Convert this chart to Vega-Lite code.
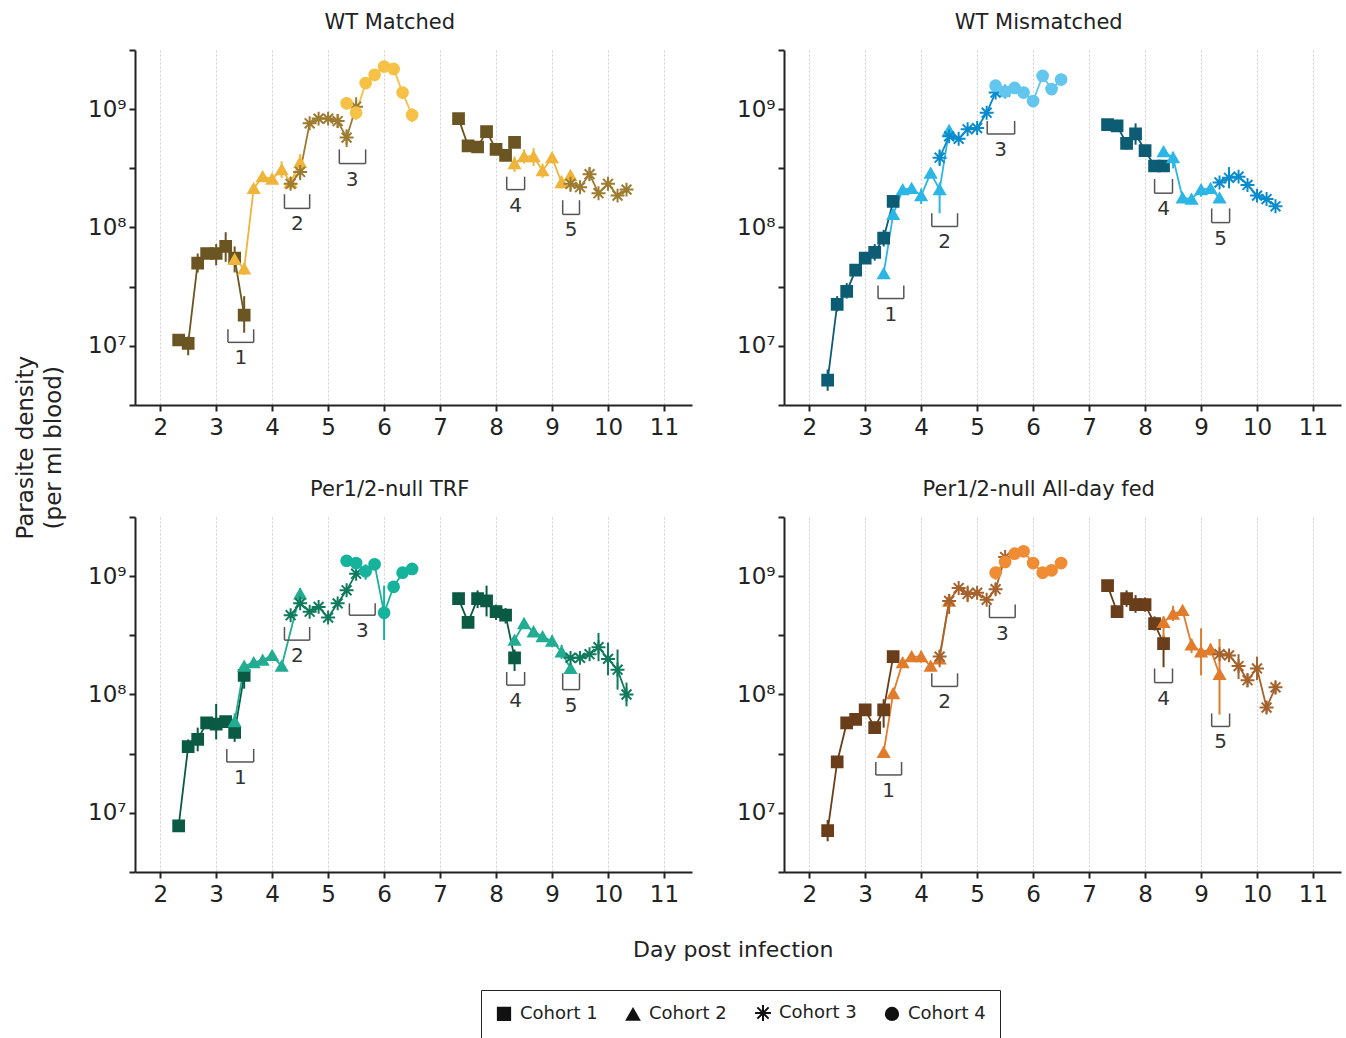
{
"$schema":"https://vega.github.io/schema/vega-lite/v6.json",
"background":"white",
"padding":{"left":14,"top":12,"right":4,"bottom":4},
"datasets":{
"pts":[
{"p":"A","c":"Cohort 1","r":1,"d":2.33,"v":1.12e7,"lo":1.05e7,"hi":1.2e7},
{"p":"A","c":"Cohort 1","r":1,"d":2.5,"v":1.05e7,"lo":8.32e6,"hi":1.2e7},
{"p":"A","c":"Cohort 1","r":1,"d":2.67,"v":5.01e7,"lo":4.17e7,"hi":6.03e7},
{"p":"A","c":"Cohort 1","r":1,"d":2.83,"v":6.03e7,"lo":5.5e7,"hi":6.61e7},
{"p":"A","c":"Cohort 1","r":1,"d":3.0,"v":6.03e7,"lo":4.79e7,"hi":7.24e7},
{"p":"A","c":"Cohort 1","r":1,"d":3.17,"v":6.92e7,"lo":5.13e7,"hi":9.12e7},
{"p":"A","c":"Cohort 1","r":1,"d":3.33,"v":5.5e7,"lo":4.17e7,"hi":6.92e7},
{"p":"A","c":"Cohort 1","r":1,"d":3.5,"v":1.82e7,"lo":1.29e7,"hi":2.63e7},
{"p":"A","c":"Cohort 2","r":1,"d":3.33,"v":5.37e7},
{"p":"A","c":"Cohort 2","r":1,"d":3.5,"v":4.47e7,"lo":3.98e7,"hi":5.01e7},
{"p":"A","c":"Cohort 2","r":1,"d":3.67,"v":2.14e8},
{"p":"A","c":"Cohort 2","r":1,"d":3.83,"v":2.69e8},
{"p":"A","c":"Cohort 2","r":1,"d":4.0,"v":2.57e8},
{"p":"A","c":"Cohort 2","r":1,"d":4.17,"v":3.09e8,"lo":2.63e8,"hi":3.63e8},
{"p":"A","c":"Cohort 2","r":1,"d":4.33,"v":2.4e8},
{"p":"A","c":"Cohort 2","r":1,"d":4.5,"v":3.55e8,"lo":3.02e8,"hi":4.17e8},
{"p":"A","c":"Cohort 3","r":1,"d":4.33,"v":2.34e8,"lo":2.14e8,"hi":2.63e8},
{"p":"A","c":"Cohort 3","r":1,"d":4.5,"v":2.95e8,"lo":2.51e8,"hi":3.63e8},
{"p":"A","c":"Cohort 3","r":1,"d":4.67,"v":7.59e8},
{"p":"A","c":"Cohort 3","r":1,"d":4.83,"v":8.32e8},
{"p":"A","c":"Cohort 3","r":1,"d":5.0,"v":8.32e8},
{"p":"A","c":"Cohort 3","r":1,"d":5.17,"v":7.94e8,"lo":6.92e8,"hi":9.12e8},
{"p":"A","c":"Cohort 3","r":1,"d":5.33,"v":5.75e8,"lo":4.79e8,"hi":6.76e8},
{"p":"A","c":"Cohort 3","r":1,"d":5.5,"v":1.05e9,"lo":8.51e8,"hi":1.26e9},
{"p":"A","c":"Cohort 4","r":1,"d":5.33,"v":1.12e9,"lo":1.0e9,"hi":1.26e9},
{"p":"A","c":"Cohort 4","r":1,"d":5.5,"v":9.33e8,"lo":8.13e8,"hi":1.1e9},
{"p":"A","c":"Cohort 4","r":1,"d":5.67,"v":1.66e9},
{"p":"A","c":"Cohort 4","r":1,"d":5.83,"v":1.95e9},
{"p":"A","c":"Cohort 4","r":1,"d":6.0,"v":2.29e9},
{"p":"A","c":"Cohort 4","r":1,"d":6.17,"v":2.19e9,"lo":2.0e9,"hi":2.4e9},
{"p":"A","c":"Cohort 4","r":1,"d":6.33,"v":1.38e9},
{"p":"A","c":"Cohort 4","r":1,"d":6.5,"v":8.91e8,"lo":7.76e8,"hi":1.02e9},
{"p":"A","c":"Cohort 1","r":2,"d":7.33,"v":8.32e8},
{"p":"A","c":"Cohort 1","r":2,"d":7.5,"v":4.9e8},
{"p":"A","c":"Cohort 1","r":2,"d":7.67,"v":4.79e8,"lo":4.37e8,"hi":5.37e8},
{"p":"A","c":"Cohort 1","r":2,"d":7.83,"v":6.46e8},
{"p":"A","c":"Cohort 1","r":2,"d":8.0,"v":4.57e8},
{"p":"A","c":"Cohort 1","r":2,"d":8.17,"v":4.07e8},
{"p":"A","c":"Cohort 1","r":2,"d":8.33,"v":5.25e8},
{"p":"A","c":"Cohort 2","r":2,"d":8.33,"v":3.47e8,"lo":2.95e8,"hi":3.98e8},
{"p":"A","c":"Cohort 2","r":2,"d":8.5,"v":3.98e8,"lo":3.47e8,"hi":4.57e8},
{"p":"A","c":"Cohort 2","r":2,"d":8.67,"v":3.98e8,"lo":3.31e8,"hi":4.68e8},
{"p":"A","c":"Cohort 2","r":2,"d":8.83,"v":3.02e8,"lo":2.63e8,"hi":3.47e8},
{"p":"A","c":"Cohort 2","r":2,"d":9.0,"v":3.89e8},
{"p":"A","c":"Cohort 2","r":2,"d":9.17,"v":2.4e8,"lo":2.14e8,"hi":2.75e8},
{"p":"A","c":"Cohort 2","r":2,"d":9.33,"v":2.75e8},
{"p":"A","c":"Cohort 3","r":2,"d":9.33,"v":2.34e8,"lo":2.0e8,"hi":2.75e8},
{"p":"A","c":"Cohort 3","r":2,"d":9.5,"v":2.19e8},
{"p":"A","c":"Cohort 3","r":2,"d":9.67,"v":2.82e8,"lo":2.51e8,"hi":3.24e8},
{"p":"A","c":"Cohort 3","r":2,"d":9.83,"v":1.95e8},
{"p":"A","c":"Cohort 3","r":2,"d":10.0,"v":2.34e8},
{"p":"A","c":"Cohort 3","r":2,"d":10.17,"v":1.86e8},
{"p":"A","c":"Cohort 3","r":2,"d":10.33,"v":2.09e8},
{"p":"B","c":"Cohort 1","r":1,"d":2.33,"v":5.13e6,"lo":4.17e6,"hi":6.31e6},
{"p":"B","c":"Cohort 1","r":1,"d":2.5,"v":2.24e7,"lo":1.95e7,"hi":2.63e7},
{"p":"B","c":"Cohort 1","r":1,"d":2.67,"v":2.88e7,"lo":2.51e7,"hi":3.39e7},
{"p":"B","c":"Cohort 1","r":1,"d":2.83,"v":4.37e7},
{"p":"B","c":"Cohort 1","r":1,"d":3.0,"v":5.5e7,"lo":5.01e7,"hi":6.03e7},
{"p":"B","c":"Cohort 1","r":1,"d":3.17,"v":6.17e7,"lo":5.25e7,"hi":7.24e7},
{"p":"B","c":"Cohort 1","r":1,"d":3.33,"v":8.13e7,"lo":6.92e7,"hi":9.55e7},
{"p":"B","c":"Cohort 1","r":1,"d":3.5,"v":1.66e8},
{"p":"B","c":"Cohort 2","r":1,"d":3.33,"v":4.07e7,"lo":3.72e7,"hi":4.47e7},
{"p":"B","c":"Cohort 2","r":1,"d":3.5,"v":1.29e8},
{"p":"B","c":"Cohort 2","r":1,"d":3.67,"v":2.09e8},
{"p":"B","c":"Cohort 2","r":1,"d":3.83,"v":2.14e8},
{"p":"B","c":"Cohort 2","r":1,"d":4.0,"v":1.86e8,"lo":1.58e8,"hi":2.14e8},
{"p":"B","c":"Cohort 2","r":1,"d":4.17,"v":2.88e8},
{"p":"B","c":"Cohort 2","r":1,"d":4.33,"v":2.09e8,"lo":1.32e8,"hi":2.4e8},
{"p":"B","c":"Cohort 2","r":1,"d":4.5,"v":6.61e8},
{"p":"B","c":"Cohort 3","r":1,"d":4.33,"v":3.89e8,"lo":3.31e8,"hi":4.57e8},
{"p":"B","c":"Cohort 3","r":1,"d":4.5,"v":5.89e8},
{"p":"B","c":"Cohort 3","r":1,"d":4.67,"v":5.62e8},
{"p":"B","c":"Cohort 3","r":1,"d":4.83,"v":6.76e8},
{"p":"B","c":"Cohort 3","r":1,"d":5.0,"v":6.92e8},
{"p":"B","c":"Cohort 3","r":1,"d":5.17,"v":9.33e8},
{"p":"B","c":"Cohort 3","r":1,"d":5.33,"v":1.38e9},
{"p":"B","c":"Cohort 3","r":1,"d":5.5,"v":1.41e9},
{"p":"B","c":"Cohort 4","r":1,"d":5.33,"v":1.58e9},
{"p":"B","c":"Cohort 4","r":1,"d":5.5,"v":1.41e9},
{"p":"B","c":"Cohort 4","r":1,"d":5.67,"v":1.51e9},
{"p":"B","c":"Cohort 4","r":1,"d":5.83,"v":1.38e9},
{"p":"B","c":"Cohort 4","r":1,"d":6.0,"v":1.17e9},
{"p":"B","c":"Cohort 4","r":1,"d":6.17,"v":1.91e9},
{"p":"B","c":"Cohort 4","r":1,"d":6.33,"v":1.48e9},
{"p":"B","c":"Cohort 4","r":1,"d":6.5,"v":1.78e9,"lo":1.58e9,"hi":2.0e9},
{"p":"B","c":"Cohort 1","r":2,"d":7.33,"v":7.41e8},
{"p":"B","c":"Cohort 1","r":2,"d":7.5,"v":7.24e8,"lo":6.46e8,"hi":8.13e8},
{"p":"B","c":"Cohort 1","r":2,"d":7.67,"v":5.13e8,"lo":4.57e8,"hi":5.75e8},
{"p":"B","c":"Cohort 1","r":2,"d":7.83,"v":6.17e8,"lo":5.01e8,"hi":7.59e8},
{"p":"B","c":"Cohort 1","r":2,"d":8.0,"v":4.47e8},
{"p":"B","c":"Cohort 1","r":2,"d":8.17,"v":3.31e8},
{"p":"B","c":"Cohort 1","r":2,"d":8.33,"v":3.31e8},
{"p":"B","c":"Cohort 2","r":2,"d":8.33,"v":4.37e8},
{"p":"B","c":"Cohort 2","r":2,"d":8.5,"v":3.89e8,"lo":3.16e8,"hi":4.37e8},
{"p":"B","c":"Cohort 2","r":2,"d":8.67,"v":1.78e8},
{"p":"B","c":"Cohort 2","r":2,"d":8.83,"v":1.74e8,"lo":1.58e8,"hi":1.91e8},
{"p":"B","c":"Cohort 2","r":2,"d":9.0,"v":2.09e8,"lo":1.82e8,"hi":2.29e8},
{"p":"B","c":"Cohort 2","r":2,"d":9.17,"v":2.14e8},
{"p":"B","c":"Cohort 2","r":2,"d":9.33,"v":1.78e8},
{"p":"B","c":"Cohort 3","r":2,"d":9.33,"v":2.4e8},
{"p":"B","c":"Cohort 3","r":2,"d":9.5,"v":2.63e8,"lo":2.14e8,"hi":3.24e8},
{"p":"B","c":"Cohort 3","r":2,"d":9.67,"v":2.69e8},
{"p":"B","c":"Cohort 3","r":2,"d":9.83,"v":2.29e8},
{"p":"B","c":"Cohort 3","r":2,"d":10.0,"v":1.86e8},
{"p":"B","c":"Cohort 3","r":2,"d":10.17,"v":1.74e8},
{"p":"B","c":"Cohort 3","r":2,"d":10.33,"v":1.51e8},
{"p":"C","c":"Cohort 1","r":1,"d":2.33,"v":7.76e6},
{"p":"C","c":"Cohort 1","r":1,"d":2.5,"v":3.63e7,"lo":3.24e7,"hi":4.17e7},
{"p":"C","c":"Cohort 1","r":1,"d":2.67,"v":4.17e7,"lo":3.31e7,"hi":5.25e7},
{"p":"C","c":"Cohort 1","r":1,"d":2.83,"v":5.75e7,"lo":5.25e7,"hi":6.46e7},
{"p":"C","c":"Cohort 1","r":1,"d":3.0,"v":5.62e7,"lo":4.17e7,"hi":8.32e7},
{"p":"C","c":"Cohort 1","r":1,"d":3.17,"v":5.89e7,"lo":5.5e7,"hi":6.31e7},
{"p":"C","c":"Cohort 1","r":1,"d":3.33,"v":4.79e7,"lo":3.98e7,"hi":5.62e7},
{"p":"C","c":"Cohort 1","r":1,"d":3.5,"v":1.45e8,"lo":1.12e8,"hi":1.66e8},
{"p":"C","c":"Cohort 2","r":1,"d":3.33,"v":5.89e7,"lo":5.01e7,"hi":6.92e7},
{"p":"C","c":"Cohort 2","r":1,"d":3.5,"v":1.74e8},
{"p":"C","c":"Cohort 2","r":1,"d":3.67,"v":1.86e8},
{"p":"C","c":"Cohort 2","r":1,"d":3.83,"v":1.95e8},
{"p":"C","c":"Cohort 2","r":1,"d":4.0,"v":2.14e8,"lo":1.95e8,"hi":2.34e8},
{"p":"C","c":"Cohort 2","r":1,"d":4.17,"v":1.74e8,"lo":1.58e8,"hi":1.91e8},
{"p":"C","c":"Cohort 2","r":1,"d":4.5,"v":7.08e8,"lo":6.31e8,"hi":7.94e8},
{"p":"C","c":"Cohort 3","r":1,"d":4.33,"v":4.68e8},
{"p":"C","c":"Cohort 3","r":1,"d":4.5,"v":5.89e8},
{"p":"C","c":"Cohort 3","r":1,"d":4.67,"v":5.01e8},
{"p":"C","c":"Cohort 3","r":1,"d":4.83,"v":5.5e8},
{"p":"C","c":"Cohort 3","r":1,"d":5.0,"v":4.47e8},
{"p":"C","c":"Cohort 3","r":1,"d":5.17,"v":5.89e8},
{"p":"C","c":"Cohort 3","r":1,"d":5.33,"v":7.59e8},
{"p":"C","c":"Cohort 3","r":1,"d":5.5,"v":1.05e9},
{"p":"C","c":"Cohort 4","r":1,"d":5.33,"v":1.35e9},
{"p":"C","c":"Cohort 4","r":1,"d":5.5,"v":1.29e9,"lo":1.15e9,"hi":1.45e9},
{"p":"C","c":"Cohort 4","r":1,"d":5.67,"v":1.1e9,"lo":9.33e8,"hi":1.26e9},
{"p":"C","c":"Cohort 4","r":1,"d":5.83,"v":1.26e9},
{"p":"C","c":"Cohort 4","r":1,"d":6.0,"v":4.9e8,"lo":2.88e8,"hi":8.32e8},
{"p":"C","c":"Cohort 4","r":1,"d":6.17,"v":8.13e8},
{"p":"C","c":"Cohort 4","r":1,"d":6.33,"v":1.07e9},
{"p":"C","c":"Cohort 4","r":1,"d":6.5,"v":1.15e9},
{"p":"C","c":"Cohort 1","r":2,"d":7.33,"v":6.46e8,"lo":5.75e8,"hi":7.24e8},
{"p":"C","c":"Cohort 1","r":2,"d":7.5,"v":4.07e8,"lo":3.63e8,"hi":4.57e8},
{"p":"C","c":"Cohort 1","r":2,"d":7.67,"v":6.46e8,"lo":5.37e8,"hi":7.59e8},
{"p":"C","c":"Cohort 1","r":2,"d":7.83,"v":6.17e8,"lo":4.57e8,"hi":8.32e8},
{"p":"C","c":"Cohort 1","r":2,"d":8.0,"v":5.01e8,"lo":4.27e8,"hi":5.75e8},
{"p":"C","c":"Cohort 1","r":2,"d":8.17,"v":4.68e8,"lo":3.98e8,"hi":5.37e8},
{"p":"C","c":"Cohort 1","r":2,"d":8.33,"v":2.04e8,"lo":1.58e8,"hi":2.4e8},
{"p":"C","c":"Cohort 2","r":2,"d":8.33,"v":2.88e8},
{"p":"C","c":"Cohort 2","r":2,"d":8.5,"v":3.98e8},
{"p":"C","c":"Cohort 2","r":2,"d":8.67,"v":3.39e8},
{"p":"C","c":"Cohort 2","r":2,"d":8.83,"v":3.09e8},
{"p":"C","c":"Cohort 2","r":2,"d":9.0,"v":2.82e8,"lo":2.51e8,"hi":3.16e8},
{"p":"C","c":"Cohort 2","r":2,"d":9.17,"v":2.29e8,"lo":2.0e8,"hi":2.63e8},
{"p":"C","c":"Cohort 2","r":2,"d":9.33,"v":1.66e8},
{"p":"C","c":"Cohort 3","r":2,"d":9.33,"v":2.04e8},
{"p":"C","c":"Cohort 3","r":2,"d":9.5,"v":2.04e8},
{"p":"C","c":"Cohort 3","r":2,"d":9.67,"v":2.19e8},
{"p":"C","c":"Cohort 3","r":2,"d":9.83,"v":2.51e8,"lo":1.91e8,"hi":3.31e8},
{"p":"C","c":"Cohort 3","r":2,"d":10.0,"v":2.0e8,"lo":1.45e8,"hi":2.75e8},
{"p":"C","c":"Cohort 3","r":2,"d":10.17,"v":1.62e8,"lo":1.1e8,"hi":2.4e8},
{"p":"C","c":"Cohort 3","r":2,"d":10.33,"v":1.0e8,"lo":7.94e7,"hi":1.26e8},
{"p":"D","c":"Cohort 1","r":1,"d":2.33,"v":7.08e6,"lo":5.75e6,"hi":8.71e6},
{"p":"D","c":"Cohort 1","r":1,"d":2.5,"v":2.69e7},
{"p":"D","c":"Cohort 1","r":1,"d":2.67,"v":5.75e7},
{"p":"D","c":"Cohort 1","r":1,"d":2.83,"v":6.17e7,"lo":5.62e7,"hi":6.76e7},
{"p":"D","c":"Cohort 1","r":1,"d":3.0,"v":7.41e7,"lo":6.61e7,"hi":8.32e7},
{"p":"D","c":"Cohort 1","r":1,"d":3.17,"v":5.25e7,"lo":4.79e7,"hi":5.89e7},
{"p":"D","c":"Cohort 1","r":1,"d":3.33,"v":7.41e7,"lo":5.25e7,"hi":9.12e7},
{"p":"D","c":"Cohort 1","r":1,"d":3.5,"v":2.09e8,"lo":1.91e8,"hi":2.34e8},
{"p":"D","c":"Cohort 2","r":1,"d":3.33,"v":3.24e7,"lo":2.95e7,"hi":3.63e7},
{"p":"D","c":"Cohort 2","r":1,"d":3.5,"v":1.02e8},
{"p":"D","c":"Cohort 2","r":1,"d":3.67,"v":1.86e8},
{"p":"D","c":"Cohort 2","r":1,"d":3.83,"v":2.09e8,"lo":1.91e8,"hi":2.29e8},
{"p":"D","c":"Cohort 2","r":1,"d":4.0,"v":2.09e8,"lo":1.86e8,"hi":2.34e8},
{"p":"D","c":"Cohort 2","r":1,"d":4.17,"v":1.74e8},
{"p":"D","c":"Cohort 2","r":1,"d":4.33,"v":2.0e8,"lo":1.78e8,"hi":2.19e8},
{"p":"D","c":"Cohort 2","r":1,"d":4.5,"v":6.17e8},
{"p":"D","c":"Cohort 3","r":1,"d":4.33,"v":2.09e8,"lo":1.7e8,"hi":2.4e8},
{"p":"D","c":"Cohort 3","r":1,"d":4.5,"v":6.17e8,"lo":4.79e8,"hi":7.08e8},
{"p":"D","c":"Cohort 3","r":1,"d":4.67,"v":7.94e8},
{"p":"D","c":"Cohort 3","r":1,"d":4.83,"v":7.08e8,"lo":6.03e8,"hi":8.32e8},
{"p":"D","c":"Cohort 3","r":1,"d":5.0,"v":7.24e8},
{"p":"D","c":"Cohort 3","r":1,"d":5.17,"v":6.31e8},
{"p":"D","c":"Cohort 3","r":1,"d":5.33,"v":7.76e8,"lo":6.92e8,"hi":8.71e8},
{"p":"D","c":"Cohort 3","r":1,"d":5.5,"v":1.45e9},
{"p":"D","c":"Cohort 4","r":1,"d":5.33,"v":1.07e9,"lo":9.33e8,"hi":1.2e9},
{"p":"D","c":"Cohort 4","r":1,"d":5.5,"v":1.32e9,"lo":1.17e9,"hi":1.51e9},
{"p":"D","c":"Cohort 4","r":1,"d":5.67,"v":1.55e9},
{"p":"D","c":"Cohort 4","r":1,"d":5.83,"v":1.62e9},
{"p":"D","c":"Cohort 4","r":1,"d":6.0,"v":1.29e9},
{"p":"D","c":"Cohort 4","r":1,"d":6.17,"v":1.07e9},
{"p":"D","c":"Cohort 4","r":1,"d":6.33,"v":1.12e9},
{"p":"D","c":"Cohort 4","r":1,"d":6.5,"v":1.29e9},
{"p":"D","c":"Cohort 1","r":2,"d":7.33,"v":8.32e8,"lo":7.59e8,"hi":9.12e8},
{"p":"D","c":"Cohort 1","r":2,"d":7.5,"v":5.01e8},
{"p":"D","c":"Cohort 1","r":2,"d":7.67,"v":6.46e8,"lo":5.5e8,"hi":7.59e8},
{"p":"D","c":"Cohort 1","r":2,"d":7.83,"v":5.75e8,"lo":4.9e8,"hi":6.92e8},
{"p":"D","c":"Cohort 1","r":2,"d":8.0,"v":5.75e8,"lo":5.01e8,"hi":6.61e8},
{"p":"D","c":"Cohort 1","r":2,"d":8.17,"v":3.98e8,"lo":3.47e8,"hi":4.57e8},
{"p":"D","c":"Cohort 1","r":2,"d":8.33,"v":2.69e8,"lo":1.7e8,"hi":3.16e8},
{"p":"D","c":"Cohort 2","r":2,"d":8.33,"v":4.07e8,"lo":2.82e8,"hi":4.57e8},
{"p":"D","c":"Cohort 2","r":2,"d":8.5,"v":4.79e8,"lo":4.17e8,"hi":5.62e8},
{"p":"D","c":"Cohort 2","r":2,"d":8.67,"v":5.13e8},
{"p":"D","c":"Cohort 2","r":2,"d":8.83,"v":2.63e8,"lo":2.24e8,"hi":2.95e8},
{"p":"D","c":"Cohort 2","r":2,"d":9.0,"v":2.29e8,"lo":1.45e8,"hi":3.63e8},
{"p":"D","c":"Cohort 2","r":2,"d":9.17,"v":2.4e8,"lo":2.14e8,"hi":2.69e8},
{"p":"D","c":"Cohort 2","r":2,"d":9.33,"v":1.48e8,"lo":6.76e7,"hi":2.95e8},
{"p":"D","c":"Cohort 3","r":2,"d":9.33,"v":2.19e8},
{"p":"D","c":"Cohort 3","r":2,"d":9.5,"v":2.14e8,"lo":1.91e8,"hi":2.4e8},
{"p":"D","c":"Cohort 3","r":2,"d":9.67,"v":1.74e8,"lo":1.35e8,"hi":2.19e8},
{"p":"D","c":"Cohort 3","r":2,"d":9.83,"v":1.32e8,"lo":1.15e8,"hi":1.51e8},
{"p":"D","c":"Cohort 3","r":2,"d":10.0,"v":1.66e8,"lo":1.32e8,"hi":2.09e8},
{"p":"D","c":"Cohort 3","r":2,"d":10.17,"v":7.76e7,"lo":6.92e7,"hi":8.71e7},
{"p":"D","c":"Cohort 3","r":2,"d":10.33,"v":1.15e8,"lo":1.0e8,"hi":1.29e8}
],
"brk":[
{"p":"A","n":"1","center":3.44,"start":3.21,"end":3.67,"low":1.07e7,"high":1.38e7},
{"p":"A","n":"2","center":4.45,"start":4.22,"end":4.67,"low":1.45e8,"high":1.91e8},
{"p":"A","n":"3","center":5.43,"start":5.2,"end":5.67,"low":3.47e8,"high":4.57e8},
{"p":"A","n":"4","center":8.35,"start":8.19,"end":8.51,"low":2.09e8,"high":2.69e8},
{"p":"A","n":"5","center":9.34,"start":9.19,"end":9.49,"low":1.29e8,"high":1.7e8},
{"p":"B","n":"1","center":3.46,"start":3.23,"end":3.69,"low":2.51e7,"high":3.24e7},
{"p":"B","n":"2","center":4.42,"start":4.19,"end":4.65,"low":1.02e8,"high":1.32e8},
{"p":"B","n":"3","center":5.42,"start":5.18,"end":5.67,"low":6.17e8,"high":7.94e8},
{"p":"B","n":"4","center":8.33,"start":8.17,"end":8.49,"low":1.95e8,"high":2.57e8},
{"p":"B","n":"5","center":9.35,"start":9.19,"end":9.51,"low":1.1e8,"high":1.45e8},
{"p":"C","n":"1","center":3.43,"start":3.19,"end":3.67,"low":2.69e7,"high":3.47e7},
{"p":"C","n":"2","center":4.45,"start":4.22,"end":4.67,"low":2.88e8,"high":3.72e8},
{"p":"C","n":"3","center":5.61,"start":5.38,"end":5.84,"low":4.68e8,"high":5.89e8},
{"p":"C","n":"4","center":8.35,"start":8.19,"end":8.51,"low":1.2e8,"high":1.55e8},
{"p":"C","n":"5","center":9.34,"start":9.19,"end":9.49,"low":1.1e8,"high":1.51e8},
{"p":"D","n":"1","center":3.42,"start":3.19,"end":3.65,"low":2.09e7,"high":2.69e7},
{"p":"D","n":"2","center":4.42,"start":4.19,"end":4.65,"low":1.17e8,"high":1.51e8},
{"p":"D","n":"3","center":5.45,"start":5.22,"end":5.68,"low":4.47e8,"high":5.75e8},
{"p":"D","n":"4","center":8.33,"start":8.17,"end":8.49,"low":1.26e8,"high":1.66e8},
{"p":"D","n":"5","center":9.35,"start":9.19,"end":9.51,"low":5.37e7,"high":6.92e7}
]
},
"title":{"text":["Parasite density","(per ml blood)"],"orient":"left","fontSize":23,"offset":22,"lineHeight":28,"dx":78},
"spacing":40,
"resolve":{"scale":{"color":"independent","fill":"independent","stroke":"independent"}},
"vconcat":[
{"hconcat":[
{"title":{"text":"WT Matched","frame":"bounds"},"width":557,"height":355,"layer":[
{"data":{"name":"pts"},"transform":[{"filter":"datum.p=='A' && isValid(datum.lo)"}],"mark":{"type":"rule","strokeWidth":2},
"encoding":{"x":{"field":"d","type":"quantitative","title":null,"scale":{"domain":[1.55,11.5],"nice":false,"zero":false},"axis":{"values":[2,3,4,5,6,7,8,9,10,11]}},
"y":{"field":"lo","type":"quantitative","title":null,"scale":{"type":"log","domain":[3162277.66,3162277660],"nice":false},"axis":{"values":[3162277.66,10000000,31622776.6,100000000,316227766,1000000000,3162277660],"labelExpr":"datum.value==1e7?'10⁷':datum.value==1e8?'10⁸':datum.value==1e9?'10⁹':''"}},
"y2":{"field":"hi"},
"color":{"field":"c","type":"nominal","scale":{"domain":["Cohort 1","Cohort 2","Cohort 3","Cohort 4"],"range":["#6b5522","#f0b43a","#9d7b30","#f6c146"]},"legend":null}}},
{"data":{"name":"pts"},"transform":[{"filter":"datum.p=='A'"}],"mark":{"type":"line","strokeWidth":1.8},
"encoding":{"x":{"field":"d","type":"quantitative","title":null},"y":{"field":"v","type":"quantitative","title":null},
"color":{"field":"c","type":"nominal","legend":null},"detail":{"field":"r","type":"nominal"}}},
{"data":{"name":"pts"},"transform":[{"filter":"datum.p=='A'"}],"mark":{"type":"point","filled":true,"size":115,"strokeWidth":2,"opacity":1},
"encoding":{"x":{"field":"d","type":"quantitative","title":null},"y":{"field":"v","type":"quantitative","title":null},
"shape":{"field":"c","type":"nominal","scale":{"domain":["Cohort 1","Cohort 2","Cohort 3","Cohort 4"],"range":["square","triangle-up","M-1.3,0L1.3,0M0,-1.3L0,1.3M-0.92,-0.92L0.92,0.92M-0.92,0.92L0.92,-0.92","circle"]},
"legend":{"orient":"none","legendX":346,"legendY":940,"direction":"horizontal","title":null,"labelFontSize":18,"labelColor":"#222","symbolSize":150,"symbolFillColor":"#111","symbolStrokeColor":"#111","symbolStrokeWidth":2,"columnPadding":24,"padding":14,"strokeColor":"#222","labelOffset":7,
"encode":{"symbols":{"update":{"fill":{"value":"#111"},"stroke":{"value":"#111"},"strokeWidth":{"value":2},"opacity":{"value":1}}},"legend":{"update":{"strokeWidth":{"value":2}}}}}},
"fill":{"field":"c","type":"nominal","scale":{"domain":["Cohort 1","Cohort 2","Cohort 3","Cohort 4"],"range":["#6b5522","#f0b43a","#9d7b30","#f6c146"]},"legend":null},
"stroke":{"field":"c","type":"nominal","scale":{"domain":["Cohort 1","Cohort 2","Cohort 3","Cohort 4"],"range":["#6b5522","#f0b43a","#9d7b30","#f6c146"]},"legend":null}}},
{"data":{"name":"brk"},"transform":[{"filter":"datum.p=='A'"}],"mark":{"type":"rule","color":"#555","strokeWidth":1.5},
"encoding":{"x":{"field":"start","type":"quantitative","title":null},"x2":{"field":"end"},"y":{"field":"low","type":"quantitative","title":null}}},
{"data":{"name":"brk"},"transform":[{"filter":"datum.p=='A'"}],"mark":{"type":"rule","color":"#555","strokeWidth":1.5},
"encoding":{"x":{"field":"start","type":"quantitative","title":null},"y":{"field":"low","type":"quantitative","title":null},"y2":{"field":"high"}}},
{"data":{"name":"brk"},"transform":[{"filter":"datum.p=='A'"}],"mark":{"type":"rule","color":"#555","strokeWidth":1.5},
"encoding":{"x":{"field":"end","type":"quantitative","title":null},"y":{"field":"low","type":"quantitative","title":null},"y2":{"field":"high"}}},
{"data":{"name":"brk"},"transform":[{"filter":"datum.p=='A'"}],"mark":{"type":"text","dy":16,"fontSize":20,"color":"#333"},
"encoding":{"x":{"field":"center","type":"quantitative","title":null},"y":{"field":"low","type":"quantitative","title":null},"text":{"field":"n"}}}
]},
{"title":{"text":"WT Mismatched","frame":"bounds"},"width":557,"height":355,"layer":[
{"data":{"name":"pts"},"transform":[{"filter":"datum.p=='B' && isValid(datum.lo)"}],"mark":{"type":"rule","strokeWidth":2},
"encoding":{"x":{"field":"d","type":"quantitative","title":null,"scale":{"domain":[1.55,11.5],"nice":false,"zero":false},"axis":{"values":[2,3,4,5,6,7,8,9,10,11]}},
"y":{"field":"lo","type":"quantitative","title":null,"scale":{"type":"log","domain":[3162277.66,3162277660],"nice":false},"axis":{"values":[3162277.66,10000000,31622776.6,100000000,316227766,1000000000,3162277660],"labelExpr":"datum.value==1e7?'10⁷':datum.value==1e8?'10⁸':datum.value==1e9?'10⁹':''"}},
"y2":{"field":"hi"},
"color":{"field":"c","type":"nominal","scale":{"domain":["Cohort 1","Cohort 2","Cohort 3","Cohort 4"],"range":["#0c5c74","#2bb6e6","#0a8ccc","#63c6ee"]},"legend":null}}},
{"data":{"name":"pts"},"transform":[{"filter":"datum.p=='B'"}],"mark":{"type":"line","strokeWidth":1.8},
"encoding":{"x":{"field":"d","type":"quantitative","title":null},"y":{"field":"v","type":"quantitative","title":null},
"color":{"field":"c","type":"nominal","legend":null},"detail":{"field":"r","type":"nominal"}}},
{"data":{"name":"pts"},"transform":[{"filter":"datum.p=='B'"}],"mark":{"type":"point","filled":true,"size":115,"strokeWidth":2,"opacity":1},
"encoding":{"x":{"field":"d","type":"quantitative","title":null},"y":{"field":"v","type":"quantitative","title":null},
"shape":{"field":"c","type":"nominal"},
"fill":{"field":"c","type":"nominal","scale":{"domain":["Cohort 1","Cohort 2","Cohort 3","Cohort 4"],"range":["#0c5c74","#2bb6e6","#0a8ccc","#63c6ee"]},"legend":null},
"stroke":{"field":"c","type":"nominal","scale":{"domain":["Cohort 1","Cohort 2","Cohort 3","Cohort 4"],"range":["#0c5c74","#2bb6e6","#0a8ccc","#63c6ee"]},"legend":null}}},
{"data":{"name":"brk"},"transform":[{"filter":"datum.p=='B'"}],"mark":{"type":"rule","color":"#555","strokeWidth":1.5},
"encoding":{"x":{"field":"start","type":"quantitative","title":null},"x2":{"field":"end"},"y":{"field":"low","type":"quantitative","title":null}}},
{"data":{"name":"brk"},"transform":[{"filter":"datum.p=='B'"}],"mark":{"type":"rule","color":"#555","strokeWidth":1.5},
"encoding":{"x":{"field":"start","type":"quantitative","title":null},"y":{"field":"low","type":"quantitative","title":null},"y2":{"field":"high"}}},
{"data":{"name":"brk"},"transform":[{"filter":"datum.p=='B'"}],"mark":{"type":"rule","color":"#555","strokeWidth":1.5},
"encoding":{"x":{"field":"end","type":"quantitative","title":null},"y":{"field":"low","type":"quantitative","title":null},"y2":{"field":"high"}}},
{"data":{"name":"brk"},"transform":[{"filter":"datum.p=='B'"}],"mark":{"type":"text","dy":16,"fontSize":20,"color":"#333"},
"encoding":{"x":{"field":"center","type":"quantitative","title":null},"y":{"field":"low","type":"quantitative","title":null},"text":{"field":"n"}}}
]}
],"spacing":44,"resolve":{"scale":{"color":"independent","fill":"independent","stroke":"independent"}}},
{"hconcat":[
{"title":{"text":"Per1/2-null TRF","frame":"bounds"},"width":557,"height":355,"layer":[
{"data":{"name":"pts"},"transform":[{"filter":"datum.p=='C' && isValid(datum.lo)"}],"mark":{"type":"rule","strokeWidth":2},
"encoding":{"x":{"field":"d","type":"quantitative","title":null,"scale":{"domain":[1.55,11.5],"nice":false,"zero":false},"axis":{"values":[2,3,4,5,6,7,8,9,10,11]}},
"y":{"field":"lo","type":"quantitative","title":null,"scale":{"type":"log","domain":[3162277.66,3162277660],"nice":false},"axis":{"values":[3162277.66,10000000,31622776.6,100000000,316227766,1000000000,3162277660],"labelExpr":"datum.value==1e7?'10⁷':datum.value==1e8?'10⁸':datum.value==1e9?'10⁹':''"}},
"y2":{"field":"hi"},
"color":{"field":"c","type":"nominal","scale":{"domain":["Cohort 1","Cohort 2","Cohort 3","Cohort 4"],"range":["#0a5a44","#22ad92","#0f7a5d","#16b39c"]},"legend":null}}},
{"data":{"name":"pts"},"transform":[{"filter":"datum.p=='C'"}],"mark":{"type":"line","strokeWidth":1.8},
"encoding":{"x":{"field":"d","type":"quantitative","title":null},"y":{"field":"v","type":"quantitative","title":null},
"color":{"field":"c","type":"nominal","legend":null},"detail":{"field":"r","type":"nominal"}}},
{"data":{"name":"pts"},"transform":[{"filter":"datum.p=='C'"}],"mark":{"type":"point","filled":true,"size":115,"strokeWidth":2,"opacity":1},
"encoding":{"x":{"field":"d","type":"quantitative","title":null},"y":{"field":"v","type":"quantitative","title":null},
"shape":{"field":"c","type":"nominal"},
"fill":{"field":"c","type":"nominal","scale":{"domain":["Cohort 1","Cohort 2","Cohort 3","Cohort 4"],"range":["#0a5a44","#22ad92","#0f7a5d","#16b39c"]},"legend":null},
"stroke":{"field":"c","type":"nominal","scale":{"domain":["Cohort 1","Cohort 2","Cohort 3","Cohort 4"],"range":["#0a5a44","#22ad92","#0f7a5d","#16b39c"]},"legend":null}}},
{"data":{"name":"brk"},"transform":[{"filter":"datum.p=='C'"}],"mark":{"type":"rule","color":"#555","strokeWidth":1.5},
"encoding":{"x":{"field":"start","type":"quantitative","title":null},"x2":{"field":"end"},"y":{"field":"low","type":"quantitative","title":null}}},
{"data":{"name":"brk"},"transform":[{"filter":"datum.p=='C'"}],"mark":{"type":"rule","color":"#555","strokeWidth":1.5},
"encoding":{"x":{"field":"start","type":"quantitative","title":null},"y":{"field":"low","type":"quantitative","title":null},"y2":{"field":"high"}}},
{"data":{"name":"brk"},"transform":[{"filter":"datum.p=='C'"}],"mark":{"type":"rule","color":"#555","strokeWidth":1.5},
"encoding":{"x":{"field":"end","type":"quantitative","title":null},"y":{"field":"low","type":"quantitative","title":null},"y2":{"field":"high"}}},
{"data":{"name":"brk"},"transform":[{"filter":"datum.p=='C'"}],"mark":{"type":"text","dy":16,"fontSize":20,"color":"#333"},
"encoding":{"x":{"field":"center","type":"quantitative","title":null},"y":{"field":"low","type":"quantitative","title":null},"text":{"field":"n"}}}
]},
{"title":{"text":"Per1/2-null All-day fed","frame":"bounds"},"width":557,"height":355,"layer":[
{"data":{"name":"pts"},"transform":[{"filter":"datum.p=='D' && isValid(datum.lo)"}],"mark":{"type":"rule","strokeWidth":2},
"encoding":{"x":{"field":"d","type":"quantitative","title":null,"scale":{"domain":[1.55,11.5],"nice":false,"zero":false},"axis":{"values":[2,3,4,5,6,7,8,9,10,11]}},
"y":{"field":"lo","type":"quantitative","title":null,"scale":{"type":"log","domain":[3162277.66,3162277660],"nice":false},"axis":{"values":[3162277.66,10000000,31622776.6,100000000,316227766,1000000000,3162277660],"labelExpr":"datum.value==1e7?'10⁷':datum.value==1e8?'10⁸':datum.value==1e9?'10⁹':''"}},
"y2":{"field":"hi"},
"color":{"field":"c","type":"nominal","scale":{"domain":["Cohort 1","Cohort 2","Cohort 3","Cohort 4"],"range":["#6a3d1b","#e07c2c","#a6622c","#f08c34"]},"legend":null}}},
{"data":{"name":"pts"},"transform":[{"filter":"datum.p=='D'"}],"mark":{"type":"line","strokeWidth":1.8},
"encoding":{"x":{"field":"d","type":"quantitative","title":null},"y":{"field":"v","type":"quantitative","title":null},
"color":{"field":"c","type":"nominal","legend":null},"detail":{"field":"r","type":"nominal"}}},
{"data":{"name":"pts"},"transform":[{"filter":"datum.p=='D'"}],"mark":{"type":"point","filled":true,"size":115,"strokeWidth":2,"opacity":1},
"encoding":{"x":{"field":"d","type":"quantitative","title":null},"y":{"field":"v","type":"quantitative","title":null},
"shape":{"field":"c","type":"nominal"},
"fill":{"field":"c","type":"nominal","scale":{"domain":["Cohort 1","Cohort 2","Cohort 3","Cohort 4"],"range":["#6a3d1b","#e07c2c","#a6622c","#f08c34"]},"legend":null},
"stroke":{"field":"c","type":"nominal","scale":{"domain":["Cohort 1","Cohort 2","Cohort 3","Cohort 4"],"range":["#6a3d1b","#e07c2c","#a6622c","#f08c34"]},"legend":null}}},
{"data":{"name":"brk"},"transform":[{"filter":"datum.p=='D'"}],"mark":{"type":"rule","color":"#555","strokeWidth":1.5},
"encoding":{"x":{"field":"start","type":"quantitative","title":null},"x2":{"field":"end"},"y":{"field":"low","type":"quantitative","title":null}}},
{"data":{"name":"brk"},"transform":[{"filter":"datum.p=='D'"}],"mark":{"type":"rule","color":"#555","strokeWidth":1.5},
"encoding":{"x":{"field":"start","type":"quantitative","title":null},"y":{"field":"low","type":"quantitative","title":null},"y2":{"field":"high"}}},
{"data":{"name":"brk"},"transform":[{"filter":"datum.p=='D'"}],"mark":{"type":"rule","color":"#555","strokeWidth":1.5},
"encoding":{"x":{"field":"end","type":"quantitative","title":null},"y":{"field":"low","type":"quantitative","title":null},"y2":{"field":"high"}}},
{"data":{"name":"brk"},"transform":[{"filter":"datum.p=='D'"}],"mark":{"type":"text","dy":16,"fontSize":20,"color":"#333"},
"encoding":{"x":{"field":"center","type":"quantitative","title":null},"y":{"field":"low","type":"quantitative","title":null},"text":{"field":"n"}}}
]}
],"spacing":44,"resolve":{"scale":{"color":"independent","fill":"independent","stroke":"independent"}},
"title":{"text":"Day post infection","orient":"bottom","fontSize":22,"offset":34,"dx":19}}
],
"config":{
"font":"DejaVu Sans",
"view":{"stroke":null},
"axis":{"domainColor":"#222","domainWidth":2,"tickColor":"#222","tickWidth":2,"tickSize":6,"labelColor":"#222","labelFontSize":23,"labelPadding":3},
"axisX":{"grid":true,"gridColor":"#cfcfcf","gridDash":[2,2],"gridWidth":1,"labelPadding":5},
"axisY":{"grid":false},
"title":{"fontSize":21,"fontWeight":"normal","color":"#222","anchor":"middle","offset":16}
}
}
